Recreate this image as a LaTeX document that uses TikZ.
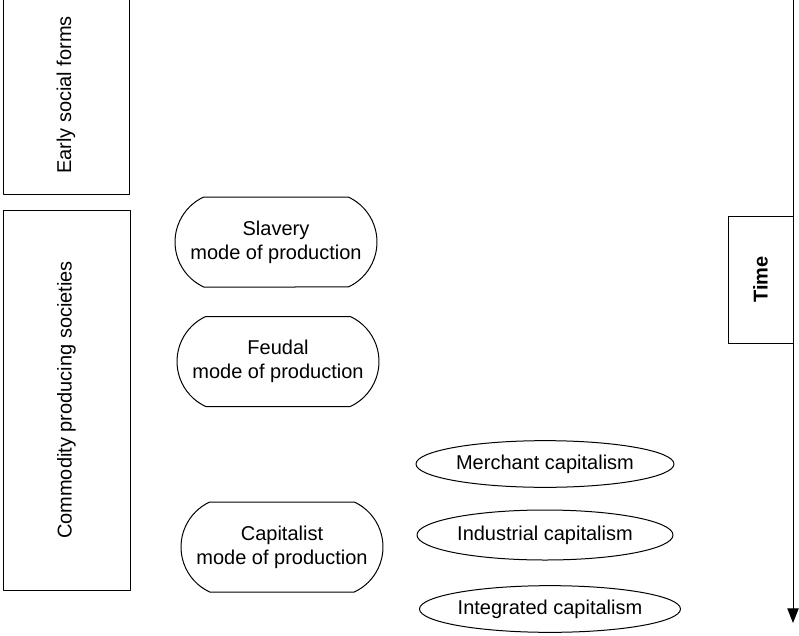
\documentclass[tikz,border=0pt]{standalone}
\usepackage{fontspec}
\setmainfont{Liberation Sans}
\usetikzlibrary{shapes.geometric,shapes.misc,arrows.meta}
\begin{document}
\begin{tikzpicture}[x=0.75pt, y=-0.75pt, >={Triangle[length=11pt,width=8.5pt]},
    line join=round, line width=0.75pt,
    every node/.style={font=\fontsize{15}{18}\selectfont},
    band/.style={draw, rectangle, rotate=90, inner sep=0pt},
    mode/.style={draw, rounded rectangle, rounded rectangle arc length=130,
        minimum width=151.5pt, minimum height=67.5pt, align=center, inner sep=0pt},
    stage/.style={draw, ellipse, inner sep=0pt, minimum height=35pt}]
\useasboundingbox (0,0) rectangle (799,635);
\coordinate (top) at (793,-2);
\coordinate (end) at (793,623);
% the two bands on the left
\node[band, minimum width=148.5pt, minimum height=94.5pt] (early) at (66,95) {Early social forms};
\node[band, minimum width=285pt, minimum height=95.25pt] (commodity) at (66.5,400) {Commodity producing societies};
% modes of production
\node[mode] (slavery) at (276,242) {Slavery\\mode of production};
\node[mode] (feudal) at (278,361.5) {Feudal\\mode of production};
\node[mode] (capitalist) at (282,547) {Capitalist\\mode of production};
% stages of capitalism
\node[stage, minimum width=193.5pt] (merchant) at (545,464) {Merchant capitalism};
\node[stage, minimum width=192pt, minimum height=37.5pt] (industrial) at (545,535) {Industrial capitalism};
\node[stage, minimum width=190.5pt] (integrated) at (550,609) {Integrated capitalism};
% time axis
\draw[->] (top) -- (end);
\node[band, font=\fontsize{15}{18}\selectfont\bfseries, minimum width=95.25pt, minimum height=48.75pt] (time) at (760.5,279.5) {Time};
\end{tikzpicture}
\end{document}
